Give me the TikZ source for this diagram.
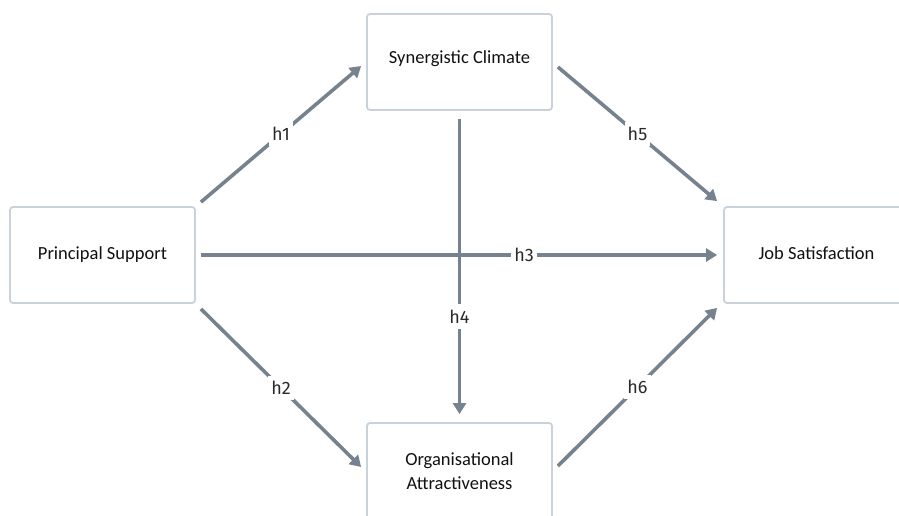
\documentclass[tikz,border=0pt]{standalone}
\usepackage{fontspec}
\setmainfont{Carlito}
\newfontfamily\labelfont{Fira Sans}
\usetikzlibrary{arrows.meta}
\definecolor{boxline}{HTML}{C9D1DA}
\definecolor{arrowcol}{HTML}{76828E}
\definecolor{txt}{HTML}{111111}
\definecolor{lbl}{HTML}{2A2A2A}
\tikzset{
  box/.style={draw=boxline, line width=1.8pt, rounded corners=3pt, fill=white,
    minimum width=185pt, minimum height=96pt, inner sep=0pt, align=center,
    text=txt, font=\fontsize{18.5}{24}\selectfont},
  arr/.style={draw=arrowcol, line width=3.6pt,
    -{Triangle[length=11pt,width=13pt]}},
  hlab/.style={fill=white, inner xsep=3pt, inner ysep=5pt, text=lbl,
    font=\labelfont\fontsize{18}{21}\selectfont}
}
\begin{document}
\begin{tikzpicture}[x=1pt,y=-1pt]
\useasboundingbox (0,0) rectangle (899,515);
\clip (0,0) rectangle (899,515);
\node[box] (ps) at (102.5,255) {\raisebox{2pt}{Principal Support}};
\node[box] (sc) at (459.5,62) {\raisebox{9pt}{Synergistic Climate}};
\node[box] (js) at (816.5,255) {\raisebox{3pt}{Job Satisfaction}};
\node[box] (oa) at (459.5,471) {Organisational\\Attractiveness};

\draw[arr] ([shift={(5,-4)}]ps.north east) -- node[hlab, pos=0.5] {h1} ([shift={(-5,4)}]sc.west);
\draw[arr] ([shift={(5,5)}]ps.south east) -- node[hlab, pos=0.5] {h2} ([shift={(-5,-4)}]oa.west);
\draw[arr] ([shift={(5,5)}]sc.east) -- node[hlab, pos=0.5] {h5} ([shift={(-6,-5)}]js.north west);
\draw[arr] ([shift={(5,-5)}]oa.east) -- node[hlab, pos=0.5] {h6} ([shift={(-6,4)}]js.south west);
\draw[arr] ([shift={(0,8)}]sc.south) -- node[hlab, pos=0.67, inner ysep=6pt] {h4} ([shift={(0,-8)}]oa.north);
\draw[arr] ([shift={(5,0)}]ps.east) -- node[hlab, pos=0.626, inner ysep=2pt] {h3} ([shift={(-6,0)}]js.west);
\end{tikzpicture}
\end{document}
